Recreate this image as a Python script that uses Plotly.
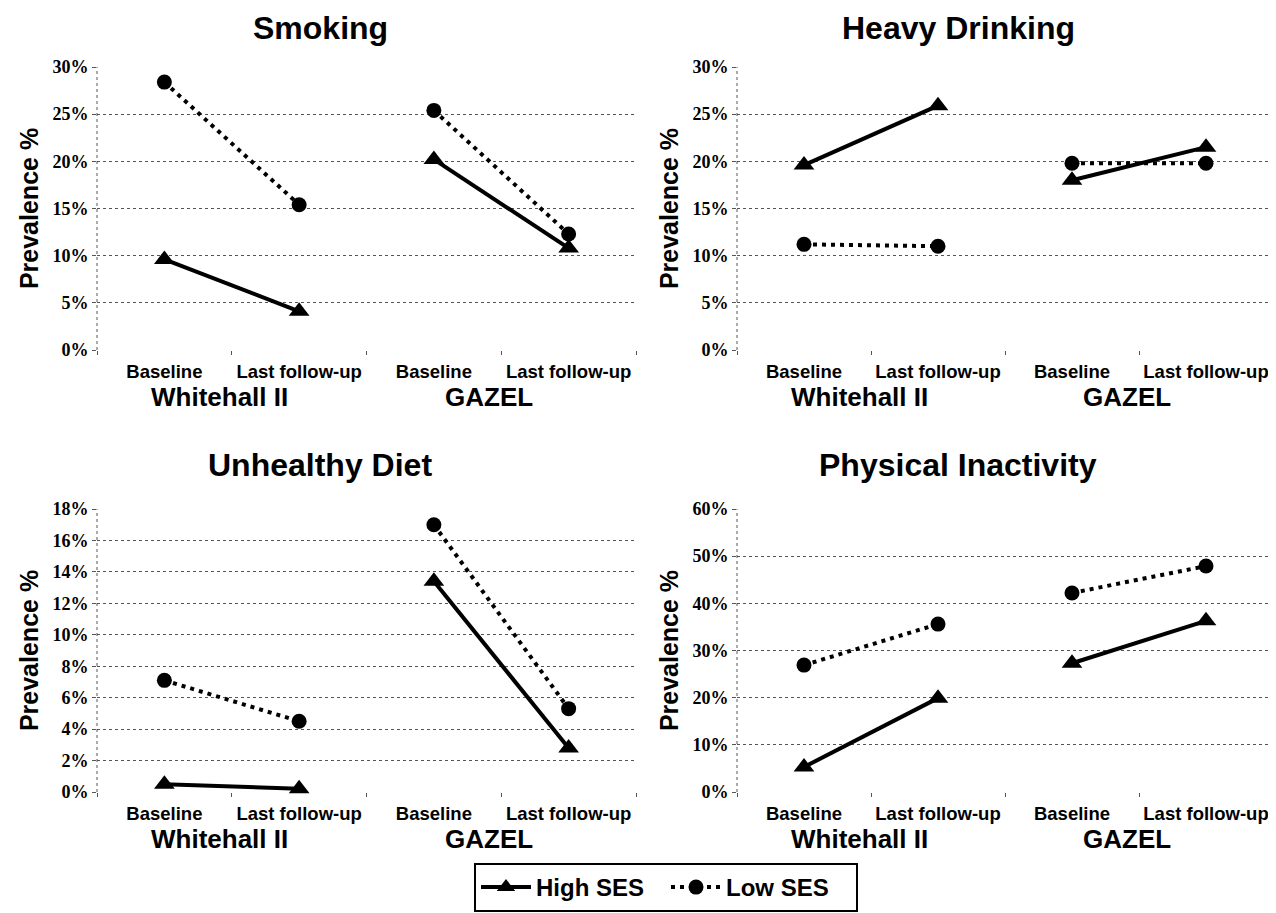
import plotly.graph_objects as go

# ---- data (prevalence, %) ----
panels = ["Smoking", "Heavy Drinking", "Unhealthy Diet", "Physical Inactivity"]
cohorts = ["Whitehall II", "GAZEL"]
timepoints = ["Baseline", "Last follow-up"]
series_names = ["High SES", "Low SES"]

# order: Whitehall II baseline, Whitehall II last, GAZEL baseline, GAZEL last
smoking_high = [9.6, 4.1, 20.2, 10.8]
smoking_low = [28.4, 15.4, 25.4, 12.3]
drinking_high = [19.6, 25.9, 18.0, 21.5]
drinking_low = [11.2, 11.0, 19.8, 19.8]
diet_high = [0.5, 0.2, 13.4, 2.8]
diet_low = [7.1, 4.5, 17.0, 5.3]
inactivity_high = [5.3, 19.9, 27.3, 36.3]
inactivity_low = [26.9, 35.6, 42.2, 47.9]

y_max = [30, 30, 18, 60]
y_step = [5, 5, 2, 10]

high_values = [smoking_high, drinking_high, diet_high, inactivity_high]
low_values = [smoking_low, drinking_low, diet_low, inactivity_low]

# ---- layout geometry (page has an 8px body margin) ----
OFF = 8
W, H = 1276 - OFF, 913 - OFF


def px(v):
    return (v - OFF) / W


def py(v):
    return 1 - (v - OFF) / H


x_doms = [[px(97), px(636)], [px(737), px(1273)]]
y_doms = [[py(350), py(67)], [py(792), py(509)]]

SANS = "Liberation Sans"
SERIF = "Liberation Serif"
GRID = "#555555"

tick_labels = timepoints * len(cohorts)
tick_pos = list(range(len(tick_labels)))
boundaries = [p - 0.5 for p in tick_pos] + [tick_pos[-1] + 0.5]

fig = go.Figure()
layout = dict(
    width=W, height=H,
    margin=dict(l=0, r=0, t=0, b=0, pad=0, autoexpand=False),
    paper_bgcolor="white", plot_bgcolor="white",
    showlegend=True,
    legend=dict(
        orientation="h", x=px(666), xanchor="center",
        y=py(863), yanchor="top",
        bordercolor="black", borderwidth=2,
        font=dict(family=SANS, size=24, color="black", weight="bold"),
        itemwidth=50, entrywidth=125, traceorder="normal",
    ),
)
annotations = []
shapes = []

styles = {
    "High SES": dict(line=dict(color="black", width=4, dash="solid"),
                     marker=dict(symbol="triangle-up", size=18, color="black")),
    "Low SES": dict(line=dict(color="black", width=4, dash="4px,5px"),
                    marker=dict(symbol="circle", size=15, color="black")),
}

for i, name in enumerate(panels):
    r, c = divmod(i, 2)
    sfx = "" if i == 0 else str(i + 1)
    xa, ya = "x" + sfx, "y" + sfx
    layout["xaxis" + sfx] = dict(
        domain=x_doms[c], anchor=ya, range=[-0.5, len(tick_pos) - 0.5],
        tickmode="array", tickvals=tick_pos, ticktext=tick_labels,
        ticks="", showgrid=False, zeroline=False, showline=False,
        automargin=False,
        tickfont=dict(family=SANS, size=18.5, color="black", weight="bold"),
        ticklabelstandoff=8,
        minor=dict(tickvals=boundaries, ticks="outside", ticklen=4,
                   tickcolor=GRID, tickwidth=1, showgrid=False),
        fixedrange=True,
    )
    layout["yaxis" + sfx] = dict(
        domain=y_doms[r], anchor=xa, range=[0, y_max[i]],
        tickmode="linear", tick0=0, dtick=y_step[i], ticksuffix="%",
        showgrid=True, gridcolor=GRID, gridwidth=1, griddash="dot",
        zeroline=False, showline=False, automargin=False,
        ticks="outside", ticklen=4, tickcolor=GRID,
        tickfont=dict(family=SERIF, size=18, color="black", weight="bold"),
        title=dict(text="Prevalence %", standoff=6,
                   font=dict(family=SANS, size=25, color="black", weight="bold")),
        fixedrange=True,
    )
    # dotted vertical axis line
    shapes.append(dict(type="line", xref=xa + " domain", yref=ya + " domain",
                       x0=0, x1=0, y0=0, y1=1,
                       line=dict(color=GRID, width=1, dash="dot")))
    # panel title
    if r == 0:
        ty, tanchor = 1.0, "top"
    else:
        ty, tanchor = py(465), "middle"
    annotations.append(dict(
        text=name, xref="paper", yref="paper",
        x=px(320 if c == 0 else 958), y=ty,
        xanchor="center", yanchor=tanchor, showarrow=False,
        font=dict(family=SANS, size=32, color="black", weight="bold")))
    # cohort group labels
    for k, coh in enumerate(cohorts):
        xs = tick_pos[2 * k: 2 * k + 2]
        annotations.append(dict(
            text=coh, xref=xa, yref=ya + " domain",
            x=sum(xs) / len(xs), y=0, xshift=-12, yshift=-47,
            xanchor="center", yanchor="middle", showarrow=False,
            font=dict(family=SANS, size=26, color="black", weight="bold")))
    # lines
    for sname, vals in zip(series_names, [high_values[i], low_values[i]]):
        for k, coh in enumerate(cohorts):
            xs = tick_pos[2 * k: 2 * k + 2]
            ys = vals[2 * k: 2 * k + 2]
            fig.add_trace(go.Scatter(
                x=xs, y=ys, mode="lines+markers", name=sname,
                legendgroup=sname, showlegend=(i == 0 and k == 0),
                xaxis=xa, yaxis=ya, cliponaxis=False, **styles[sname]))

layout["annotations"] = annotations
layout["shapes"] = shapes
fig.update_layout(**layout)
fig.write_html("out.html")
